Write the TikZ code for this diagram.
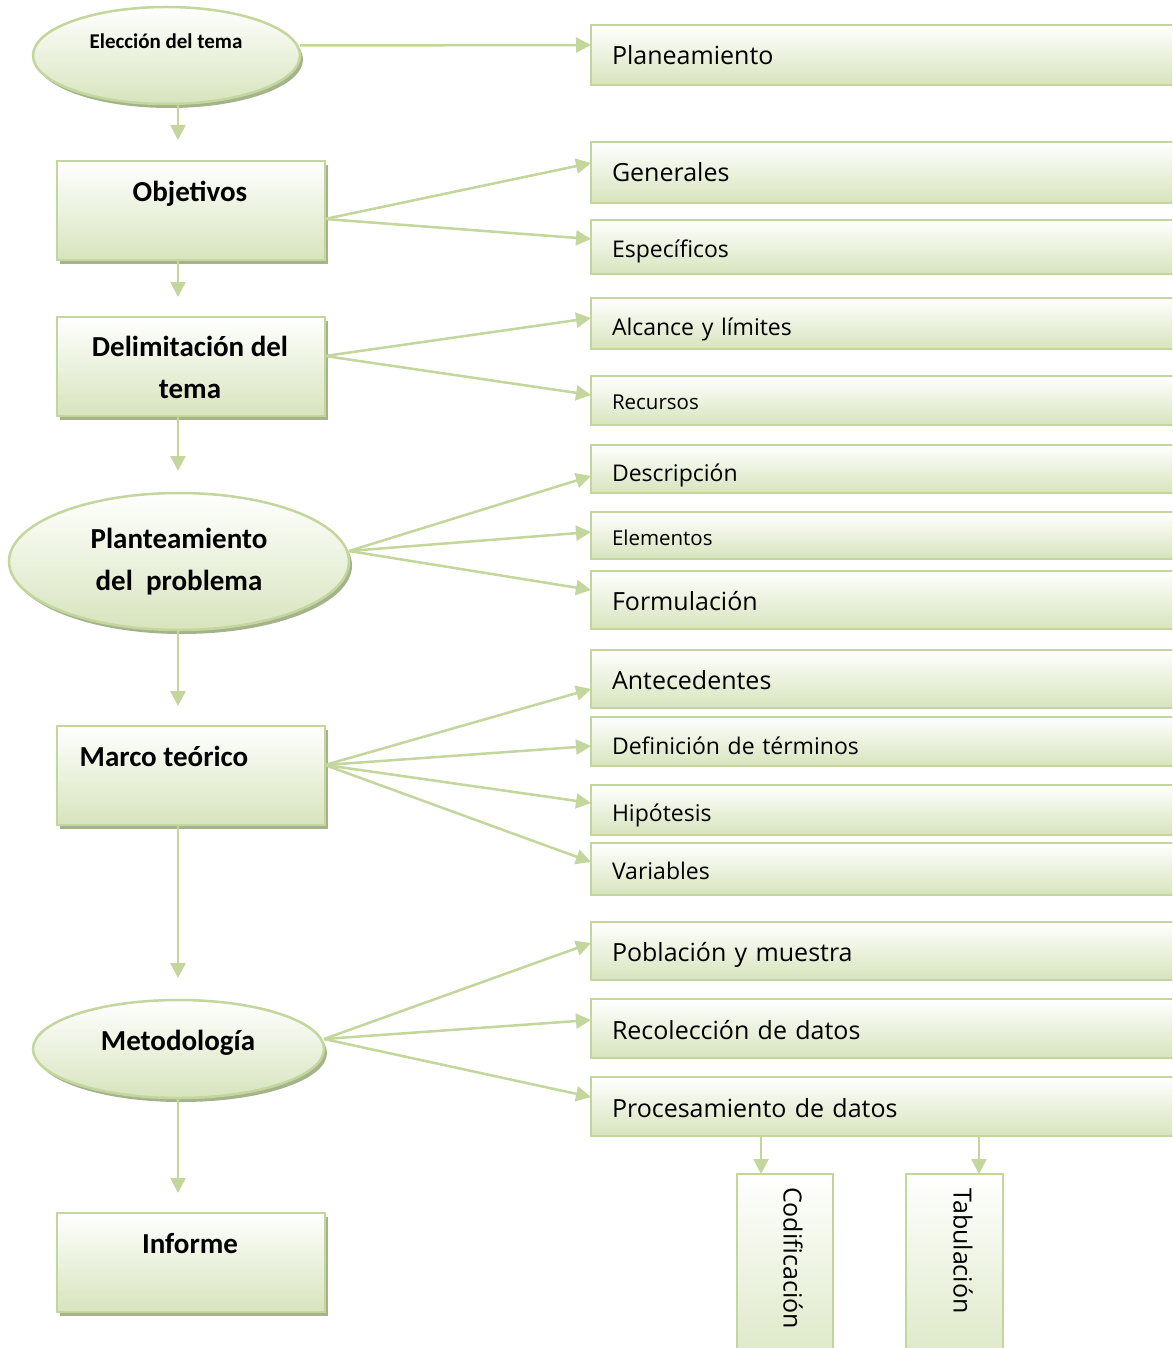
\documentclass[tikz,border=0pt]{standalone}
\usepackage{fontspec}
\setmainfont{Carlito}
\newfontfamily\rfont{Open Sans}
\usetikzlibrary{arrows.meta,shapes.geometric,shadows}
\definecolor{ln}{HTML}{C3D69B}
\definecolor{lite}{HTML}{D7E4BD}
\definecolor{shd}{HTML}{A5B38C}
\newcommand\lowered[2]{\raisebox{-#1}[\height][\depth]{#2}}
\begin{document}
\begin{tikzpicture}[x=1pt,y=-1pt,
  base/.style={draw=ln, line width=2.5pt, top color=white, bottom color=lite, inner sep=0pt, outer sep=0pt},
  shad/.style={drop shadow={shadow xshift=3pt, shadow yshift=-4pt, fill=shd, opacity=1}},
  lbox/.style={base, shad, rectangle, minimum width=268pt, minimum height=99pt},
  lell/.style={base, shad, ellipse},
  rbox/.style={base, rectangle, anchor=north west, minimum width=600pt, text width=558pt, align=left, inner xsep=21pt, font=\rfont\fontsize{25}{30}\selectfont},
  rmed/.style={font=\rfont\fontsize{23}{28}\selectfont},
  rsml/.style={font=\rfont\fontsize{20.5}{25}\selectfont},
  vbox/.style={base, rectangle, anchor=north west, minimum height=220pt},
  vtext/.style={rotate=-90, font=\rfont\fontsize{25}{30}\selectfont, inner sep=0pt},
  ltext/.style={font=\bfseries\fontsize{29}{42}\selectfont, align=center, inner sep=0pt},
  stext/.style={font=\bfseries\fontsize{21}{25}\selectfont, inner sep=0pt},
  arr/.style={draw=ln, line width=2.5pt, -{Triangle[width=15pt,length=15pt]}}
]
\fill[white] (0,0) rectangle (1172,1348);
\useasboundingbox (0,0) rectangle (1172,1348);
\begin{scope}
\clip (0,0) rectangle (1172,1348);
\coordinate (spine) at (178,0);
\coordinate (codx) at (761,0);
\coordinate (tabx) at (979,0);

% left column
\node[lell, minimum width=267pt, minimum height=97pt] (elec) at (166.5,55.5) {};
\node[lbox] (obj) at (191,210.5) {};
\node[lbox] (del) at (191,366.5) {};
\node[lell, minimum width=340pt, minimum height=137pt] (plt) at (179,561.5) {};
\node[lbox] (marco) at (191,775.5) {};
\node[lell, minimum width=291pt, minimum height=98pt] (met) at (178.5,1049) {};
\node[lbox] (inf) at (191,1262.5) {};

\node[stext, anchor=base] (telec) at (166,48.5) {Elección del tema};
\node[ltext, anchor=base] (tobj) at (190,201.5) {Objetivos};
\node[ltext] (tdel) at (190,367) {Delimitación del\\tema};
\node[ltext] (tplt) at (179,562) {Planteamiento\\del~ problema};
\node[ltext, anchor=base] (tmarco) at (164,766.5) {Marco teórico};
\node[ltext, anchor=base] (tmet) at (178,1050.5) {Metodología};
\node[ltext, anchor=base] (tinf) at (190,1253.5) {Informe};

% right column
\node[rbox, minimum height=60pt] (pla) at (591,25) {Planeamiento};
\node[rbox, minimum height=61pt] (gen) at (591,142) {Generales};
\node[rbox, rmed, minimum height=54pt] (esp) at (591,220) {\lowered{4pt}{Específicos}};
\node[rbox, rmed, minimum height=51pt] (alc) at (591,298) {\lowered{6pt}{Alcance y límites}};
\node[rbox, rsml, minimum height=49pt] (rec) at (591,376) {\lowered{2pt}{Recursos}};
\node[rbox, rmed, minimum height=48pt] (des) at (591,445) {\lowered{6pt}{Descripción}};
\node[rbox, rsml, minimum height=47pt] (ele) at (591,512) {\lowered{2pt}{Elementos}};
\node[rbox, minimum height=58pt] (for) at (591,571) {\lowered{1pt}{Formulación}};
\node[rbox, minimum height=58pt] (ant) at (591,650) {\lowered{1pt}{Antecedentes}};
\node[rbox, rmed, minimum height=49pt] (def) at (591,717) {\lowered{4pt}{Definición de términos}};
\node[rbox, rmed, minimum height=50pt] (hip) at (591,785) {\lowered{5pt}{Hipótesis}};
\node[rbox, rmed, minimum height=52pt] (var) at (591,843) {\lowered{2pt}{Variables}};
\node[rbox, minimum height=58pt] (pob) at (591,922) {\lowered{4pt}{Población y muestra}};
\node[rbox, minimum height=59pt] (rco) at (591,999) {\lowered{2pt}{Recolección de datos}};
\node[rbox, minimum height=59pt] (pro) at (591,1077) {\lowered{2pt}{Procesamiento de datos}};

\node[vbox, minimum width=96pt] (cod) at (737,1174) {};
\node[vbox, minimum width=97pt] (tab) at (906,1174) {};
\node[vtext] (tcod) at (793,1258) {Codificación};
\node[vtext] (ttab) at (963,1251) {Tabulación};

% vertical spine arrows
\draw[arr, shorten >=21pt] (spine |- elec.south) -- (spine |- obj.north);
\draw[arr, shorten >=20pt] (spine |- obj.south) -- (spine |- del.north);
\draw[arr, shorten >=22pt] (spine |- del.south) -- (spine |- plt.north);
\draw[arr, shorten >=20pt] (spine |- plt.south) -- (spine |- marco.north);
\draw[arr, shorten >=22pt] (spine |- marco.south) -- (spine |- met.north);
\draw[arr, shorten >=20pt] (spine |- met.south) -- (spine |- inf.north);

% branch arrows
\draw[arr] ([yshift=10pt]elec.east) -- ([yshift=10pt]pla.west);
\draw[arr] ([yshift=-8.5pt]obj.east) -- ([yshift=9.5pt]gen.west);
\draw[arr] ([yshift=-8.5pt]obj.east) -- ([yshift=8pt]esp.west);
\draw[arr] ([yshift=10.5pt]del.east) -- ([yshift=5.5pt]alc.west);
\draw[arr] ([yshift=10.5pt]del.east) -- ([yshift=5.5pt]rec.west);
\draw[arr] ([yshift=10.5pt]plt.east) -- ([yshift=-7pt]des.west);
\draw[arr] ([yshift=10.5pt]plt.east) -- ([yshift=3.5pt]ele.west);
\draw[arr] ([yshift=10.5pt]plt.east) -- ([yshift=10pt]for.west);
\draw[arr] ([yshift=10.5pt]marco.east) -- ([yshift=-10pt]ant.west);
\draw[arr] ([yshift=10.5pt]marco.east) -- ([yshift=-4.5pt]def.west);
\draw[arr] ([yshift=10.5pt]marco.east) -- ([yshift=7pt]hip.west);
\draw[arr] ([yshift=10.5pt]marco.east) -- ([yshift=7pt]var.west);
\draw[arr] ([yshift=10pt]met.east) -- ([yshift=8pt]pob.west);
\draw[arr] ([yshift=10pt]met.east) -- ([yshift=8.5pt]rco.west);
\draw[arr] ([yshift=10pt]met.east) -- ([yshift=9.5pt]pro.west);

\draw[arr] (codx |- pro.south) -- (codx |- cod.north);
\draw[arr] (tabx |- pro.south) -- (tabx |- tab.north);
\end{scope}
\end{tikzpicture}
\end{document}
